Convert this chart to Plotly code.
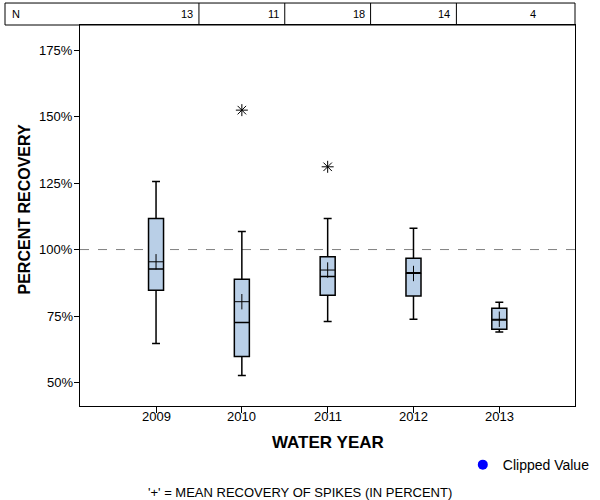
import plotly.graph_objects as go

YEARS = [2009, 2010, 2011, 2012, 2013]
N_COUNTS = [13, 11, 18, 14, 4]
LOWER_WHISKER = [64.7, 52.7, 73.0, 73.8, 69.0]
Q1 = [84.7, 59.8, 82.8, 82.5, 70.0]
MEDIAN = [92.7, 72.6, 89.9, 91.3, 73.5]
Q3 = [111.7, 88.8, 97.3, 96.7, 77.9]
UPPER_WHISKER = [125.6, 106.8, 111.7, 108.0, 80.2]
MEAN = [95.4, 80.4, 92.3, 91.0, 73.8]
OUTLIER_YEARS = [2010, 2011]
OUTLIER_VALUES = [152.4, 131.1]
Y_TICKS = [50, 75, 100, 125, 150, 175]

FONT = "Liberation Sans, Arial, sans-serif"

fig = go.Figure()

fig.add_trace(go.Box(
    x=YEARS, q1=Q1, median=MEDIAN, q3=Q3,
    lowerfence=LOWER_WHISKER, upperfence=UPPER_WHISKER,
    width=0.175, whiskerwidth=0.53,
    fillcolor="#B9CFE7", line=dict(color="black", width=1.5),
    boxpoints=False, showlegend=False, hoverinfo="skip",
))

fig.add_trace(go.Scatter(
    x=YEARS, y=MEAN, mode="markers", showlegend=False,
    marker=dict(symbol="cross-thin", size=11, color="black",
                line=dict(color="black", width=1)),
))

fig.add_trace(go.Scatter(
    x=OUTLIER_YEARS, y=OUTLIER_VALUES, mode="markers", showlegend=False,
    marker=dict(symbol="asterisk-open", size=10, color="black",
                line=dict(color="black", width=1)),
))

fig.add_trace(go.Scatter(
    x=[None], y=[None], mode="markers", name="Clipped Value",
    marker=dict(symbol="circle", size=10, color="#0000FF"),
))

shapes = [
    dict(type="line", xref="paper", yref="y", x0=0, x1=1, y0=100, y1=100,
         line=dict(color="#808080", width=1, dash="dash"), layer="below"),
    dict(type="rect", xref="paper", yref="paper", x0=-0.1515, x1=1.0,
         y0=1.0, y1=1.0577, line=dict(color="black", width=1)),
]
for yr in YEARS[:-1]:
    shapes.append(dict(type="line", xref="x", yref="paper", x0=yr + 0.5, x1=yr + 0.5,
                       y0=1.0, y1=1.0577, line=dict(color="black", width=1)))

annotations = [
    dict(text="N", xref="paper", yref="paper", x=-0.141, y=1.0289,
         xanchor="left", yanchor="middle", showarrow=False,
         font=dict(family=FONT, size=11, color="black")),
    dict(text="<b>WATER YEAR</b>", xref="paper", yref="paper", x=0.5, y=-0.0945,
         xanchor="center", yanchor="middle", showarrow=False,
         font=dict(family=FONT, size=17, color="black")),
    dict(text="<b>PERCENT RECOVERY</b>", xref="paper", yref="paper", x=-0.113, y=0.516,
         xanchor="center", yanchor="middle", textangle=-90, showarrow=False,
         font=dict(family=FONT, size=16, color="black")),
    dict(text="'+' = MEAN RECOVERY OF SPIKES (IN PERCENT)", xref="paper", yref="paper",
         x=0.444, y=-0.226, xanchor="center", yanchor="middle", showarrow=False,
         font=dict(family=FONT, size=13, color="black")),
]
for yr, n in zip(YEARS, N_COUNTS):
    annotations.append(dict(text=str(n), xref="x", yref="paper", x=yr + 0.5, y=1.0289,
                            xanchor="right", yanchor="middle", xshift=-4, showarrow=False,
                            font=dict(family=FONT, size=11, color="black")))
# tick labels placed close to the axes, as in the reference
for yr in YEARS:
    annotations.append(dict(text=str(yr), xref="x", yref="paper", x=yr, y=-0.0276,
                            xanchor="center", yanchor="middle", showarrow=False,
                            font=dict(family=FONT, size=13, color="black")))
for v in Y_TICKS:
    annotations.append(dict(text=f"{v}%", xref="paper", yref="y", x=-0.011, y=v,
                            xanchor="right", yanchor="middle", showarrow=False,
                            font=dict(family=FONT, size=13, color="black")))

fig.update_layout(
    width=600, height=500,
    margin=dict(l=80, r=25, t=25, b=94, autoexpand=False),
    paper_bgcolor="white", plot_bgcolor="white",
    font=dict(family=FONT, size=13, color="black"),
    shapes=shapes, annotations=annotations,
    showlegend=True,
    legend=dict(x=1.04, y=-0.155, xanchor="right", yanchor="middle",
                font=dict(family=FONT, size=14, color="black"),
                bgcolor="rgba(0,0,0,0)", itemwidth=30),
    xaxis=dict(range=[2008.114, 2013.882], tickvals=YEARS, showticklabels=False,
               showgrid=False, zeroline=False, showline=True, linecolor="black", linewidth=1,
               mirror=True, ticks="outside", ticklen=6, tickcolor="black"),
    yaxis=dict(range=[41.2, 184.4], tickvals=Y_TICKS, showticklabels=False,
               showgrid=False, zeroline=False, showline=True, linecolor="black", linewidth=1,
               mirror=True, ticks="outside", ticklen=5, tickcolor="black"),
)

fig.write_html("out.html", config={"displayModeBar": False},
               post_script="document.body.style.margin='0';document.body.style.overflow='hidden';")
